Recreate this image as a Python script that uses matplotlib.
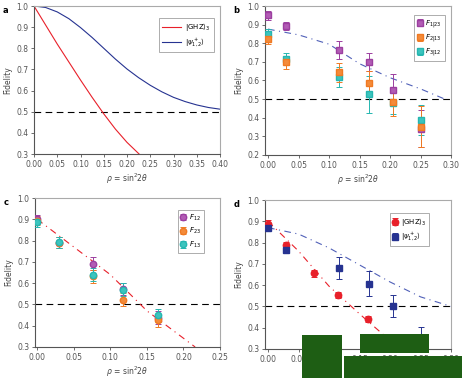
import matplotlib
matplotlib.use("Agg")
import matplotlib.pyplot as plt
from matplotlib.patches import Rectangle

plt.rcParams['font.family'] = ['DejaVu Sans']
plt.rcParams['mathtext.fontset'] = 'dejavusans'

# ---------- panel a: theory curves ----------
a_p = [0.0, 0.025, 0.05, 0.075, 0.10, 0.125, 0.15, 0.175, 0.20, 0.226]
a_ghz = [1.0, 0.91, 0.82, 0.735, 0.65, 0.568, 0.49, 0.418, 0.355, 0.30]
a_p2 = [0.0, 0.025, 0.05, 0.075, 0.10, 0.125, 0.15, 0.175, 0.20, 0.225, 0.25, 0.275, 0.30, 0.325, 0.35, 0.375, 0.40]
a_psi = [1.0, 0.993, 0.972, 0.940, 0.898, 0.851, 0.800, 0.749, 0.702, 0.661, 0.625, 0.594, 0.568, 0.548, 0.532, 0.520, 0.512]

# ---------- panel b ----------
b_p = [0.0, 0.03, 0.117, 0.165, 0.205, 0.25]
b_f1 = [0.950, 0.893, 0.763, 0.700, 0.550, 0.342]
b_f1e = [0.025, 0.023, 0.048, 0.050, 0.085, 0.100]
b_f2 = [0.822, 0.697, 0.643, 0.589, 0.485, 0.352]
b_f2e = [0.028, 0.035, 0.050, 0.060, 0.075, 0.110]
b_f3 = [0.849, 0.715, 0.620, 0.526, 0.480, 0.388]
b_f3e = [0.028, 0.033, 0.055, 0.100, 0.060, 0.080]
b_tp = [0.0, 0.05, 0.10, 0.15, 0.20, 0.25, 0.29]
b_th = [0.876, 0.845, 0.795, 0.690, 0.615, 0.555, 0.500]

# ---------- panel c ----------
c_p = [0.0, 0.03, 0.077, 0.117, 0.165]
c_f12 = [0.900, 0.790, 0.692, 0.573, 0.438]
c_f23 = [0.894, 0.790, 0.633, 0.522, 0.425]
c_f13 = [0.886, 0.792, 0.639, 0.569, 0.448]
c_err = [0.02, 0.025, 0.03, 0.03, 0.03]
c_tp = [0.0, 0.05, 0.10, 0.15, 0.216]
c_th = [0.900, 0.770, 0.640, 0.470, 0.300]

# ---------- panel d ----------
d_pg = [0.0, 0.03, 0.075, 0.115, 0.164]
d_ghz = [0.889, 0.790, 0.655, 0.555, 0.442]
d_ghze = [0.015, 0.015, 0.015, 0.015, 0.015]
d_ps = [0.0, 0.03, 0.117, 0.165, 0.205, 0.25]
d_psi = [0.869, 0.764, 0.679, 0.607, 0.503, 0.350]
d_psie = [0.012, 0.015, 0.052, 0.060, 0.052, 0.053]
d_tg = [0.0, 0.05, 0.10, 0.15, 0.20, 0.22]
d_thg = [0.900, 0.760, 0.595, 0.465, 0.340, 0.300]
d_ts = [0.0, 0.05, 0.10, 0.15, 0.20, 0.25, 0.30]
d_ths = [0.870, 0.840, 0.775, 0.695, 0.615, 0.545, 0.500]

W, H = 462, 378
fig = plt.figure(figsize=(W / 100, H / 100), dpi=100)

def box(l, r, t, b):
    return [l / W, 1 - b / H, (r - l) / W, (b - t) / H]

PURPLE = '#9c3fa0'
ORANGE = '#f07a22'
CYAN = '#25b6b0'
RED = '#e8202a'
BLUE = '#263391'
FS = 5.5

def style(ax, xlim, ylim, xt, yt):
    ax.set_xlim(*xlim)
    ax.set_ylim(*ylim)
    ax.set_xticks(xt)
    ax.set_yticks(yt)
    ax.set_xticklabels(['%.2f' % v for v in xt], fontsize=FS, color='#444444')
    ax.set_yticklabels(['%.1f' % v for v in yt], fontsize=FS, color='#444444')
    for s in ['left', 'bottom']:
        ax.spines[s].set_color('#555555')
        ax.spines[s].set_linewidth(0.8)
    for s in ['top', 'right']:
        ax.spines[s].set_color('#aaaaaa')
        ax.spines[s].set_linewidth(0.8)
    ax.tick_params(direction='out', length=2, width=0.6, colors='#555555', pad=2)
    ax.set_ylabel('Fidelity', fontsize=FS, color='#444444', labelpad=3)
    ax.set_xlabel(r'$\rho$ = sin$^2$2$\theta$', fontsize=FS, color='#444444', labelpad=2)
    ax.axhline(0.5, color='black', lw=0.8, ls=(0, (6, 4)), zorder=1)

def frame(lg):
    lg.get_frame().set_edgecolor('#888888')
    lg.get_frame().set_linewidth(0.6)

# panel a
ax = fig.add_axes(box(34, 220, 6, 154))
ax.plot(a_p, a_ghz, color=RED, lw=0.8, label=r'|GHZ$\rangle_3$')
ax.plot(a_p2, a_psi, color=BLUE, lw=0.8, label=r'$|\psi^+_{1,2}\rangle$')
style(ax, (0, 0.4), (0.3, 1.0), [0, 0.05, 0.1, 0.15, 0.2, 0.25, 0.3, 0.35, 0.4],
      [0.3, 0.4, 0.5, 0.6, 0.7, 0.8, 0.9, 1.0])
frame(ax.legend(loc='upper right', bbox_to_anchor=(0.985, 0.945), fontsize=FS - 0.5,
                frameon=True, fancybox=False, handlelength=2.8, borderpad=0.5,
                labelspacing=0.5, handletextpad=0.5))
ax.text(-0.17, 1.0, 'a', transform=ax.transAxes, fontsize=6, fontweight='bold', va='top')

# panel b
ax = fig.add_axes(box(265, 451, 6, 155))
ax.plot(b_tp, b_th, color='#5060b8', lw=0.8, ls=(0, (6, 4, 1, 4)), zorder=2)
ms = 4.2
ax.errorbar(b_p, b_f1, yerr=b_f1e, fmt='s', color=PURPLE, ms=ms, mec=PURPLE, mfc='#b25cb5',
            elinewidth=0.7, capsize=2, capthick=0.7, label=r'$F_{1|23}$', zorder=3)
ax.errorbar(b_p, b_f3, yerr=b_f3e, fmt='s', color=CYAN, ms=ms, mec=CYAN, mfc='#3cc4be',
            elinewidth=0.7, capsize=2, capthick=0.7, label=r'$F_{3|12}$', zorder=3)
ax.errorbar(b_p, b_f2, yerr=b_f2e, fmt='s', color=ORANGE, ms=ms, mec=ORANGE, mfc='#f48b3a',
            elinewidth=0.7, capsize=2, capthick=0.7, label=r'$F_{2|13}$', zorder=3)
style(ax, (-0.005, 0.30), (0.2, 1.0), [0, 0.05, 0.1, 0.15, 0.2, 0.25, 0.3],
      [0.2, 0.3, 0.4, 0.5, 0.6, 0.7, 0.8, 0.9, 1.0])
h, l = ax.get_legend_handles_labels()
order = [0, 2, 1]
frame(ax.legend([h[i] for i in order], [l[i] for i in order], loc='upper right',
                bbox_to_anchor=(0.985, 0.96), fontsize=FS - 0.5, frameon=True, fancybox=False,
                handlelength=0.8, borderpad=0.4, labelspacing=0.35, handletextpad=0.4))
ax.text(-0.17, 1.0, 'b', transform=ax.transAxes, fontsize=6, fontweight='bold', va='top')

# panel c
ax = fig.add_axes(box(35, 220, 198, 347))
ax.plot(c_tp, c_th, color=RED, lw=0.8, ls=(0, (6, 4, 1, 4)), zorder=2)
ms = 4.6
ax.errorbar(c_p, c_f12, yerr=c_err, fmt='o', color=PURPLE, ms=ms, mec=PURPLE, mfc='#b25cb5',
            elinewidth=0.7, capsize=2, capthick=0.7, label=r'$F_{12}$', zorder=3)
ax.errorbar(c_p, c_f23, yerr=c_err, fmt='o', color=ORANGE, ms=ms, mec=ORANGE, mfc='#f48b3a',
            elinewidth=0.7, capsize=2, capthick=0.7, label=r'$F_{23}$', zorder=3)
ax.errorbar(c_p, c_f13, yerr=c_err, fmt='o', color=CYAN, ms=ms, mec=CYAN, mfc='#3cc4be',
            elinewidth=0.7, capsize=2, capthick=0.7, label=r'$F_{13}$', zorder=3)
style(ax, (-0.003, 0.25), (0.3, 1.0), [0, 0.05, 0.1, 0.15, 0.2, 0.25],
      [0.3, 0.4, 0.5, 0.6, 0.7, 0.8, 0.9, 1.0])
frame(ax.legend(loc='upper right', bbox_to_anchor=(0.93, 0.945), fontsize=FS - 0.5,
                frameon=True, fancybox=False, handlelength=0.8, borderpad=0.4,
                labelspacing=0.5, handletextpad=0.4))
ax.text(-0.17, 1.0, 'c', transform=ax.transAxes, fontsize=6, fontweight='bold', va='top')

# panel d
ax = fig.add_axes(box(265, 451, 200, 349))
ax.plot(d_tg, d_thg, color=RED, lw=0.8, ls=(0, (6, 4, 1, 4)), zorder=2)
ax.plot(d_ts, d_ths, color='#5060b8', lw=0.8, ls=(0, (6, 4, 1, 4)), zorder=2)
ax.errorbar(d_pg, d_ghz, yerr=d_ghze, fmt='o', color=RED, ms=4.6, mec=RED, mfc=RED,
            elinewidth=0.7, capsize=2, capthick=0.7, label=r'|GHZ$\rangle_3$', zorder=3)
ax.errorbar(d_ps, d_psi, yerr=d_psie, fmt='s', color=BLUE, ms=4.2, mec=BLUE, mfc=BLUE,
            elinewidth=0.7, capsize=2, capthick=0.7, label=r'$|\psi^+_{1,2}\rangle$', zorder=3)
style(ax, (-0.005, 0.30), (0.3, 1.0), [0, 0.05, 0.1, 0.15, 0.2, 0.25, 0.3],
      [0.3, 0.4, 0.5, 0.6, 0.7, 0.8, 0.9, 1.0])
ax.xaxis.label.set_visible(False)
frame(ax.legend(loc='upper right', bbox_to_anchor=(0.9, 0.935), fontsize=FS - 0.5,
                frameon=True, fancybox=False, handlelength=0.8, borderpad=0.4,
                labelspacing=0.5, handletextpad=0.4))
ax.text(-0.17, 1.0, 'd', transform=ax.transAxes, fontsize=6, fontweight='bold', va='top')

# green blocks covering the lower right of panel d
GREEN = '#1e5e14'
for (l, t, r, b) in [(302, 335, 342, 378), (360, 334, 429, 353), (344, 356, 462, 378)]:
    fig.patches.append(Rectangle((l / W, 1 - b / H), (r - l) / W, (b - t) / H,
                                 transform=fig.transFigure, facecolor=GREEN,
                                 edgecolor='none', zorder=10))

fig.savefig('out.png', dpi=100)
